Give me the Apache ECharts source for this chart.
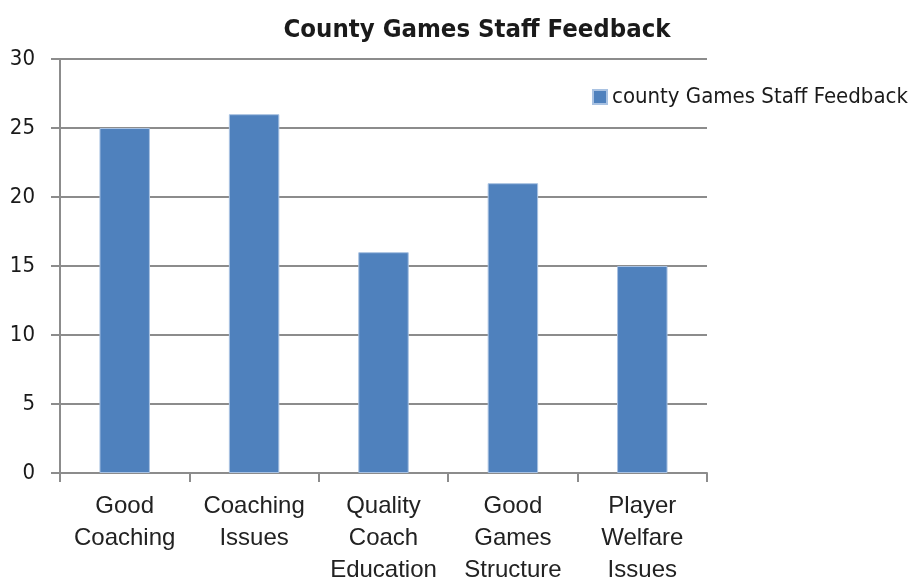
<!DOCTYPE html>
<html>
<head>
<meta charset="utf-8">
<style>
  html, body { margin: 0; padding: 0; background: #fff; }
  #chart { width: 918px; height: 580px; }
</style>
<script src="https://cdn.jsdelivr.net/npm/echarts@6/dist/echarts.min.js"></script>
</head>
<body>
<div id="chart"></div>
<script>
// Feedback categories and counts
const categories = [
  'Good\nCoaching',
  'Coaching\nIssues',
  'Quality\nCoach\nEducation',
  'Good\nGames\nStructure',
  'Player\nWelfare\nIssues'
];
const feedbackCounts = [25, 26, 16, 21, 15];
const seriesName = 'county Games Staff Feedback';
const yTicks = [0, 5, 10, 15, 20, 25, 30];

const chart = echarts.init(document.getElementById('chart'));
const gray = '#8c8c8c';

chart.setOption({
  animation: false,
  title: {
    text: 'County Games Staff Feedback',
    left: 472,
    top: 12,
    textAlign: 'center',
    textStyle: {
      fontFamily: '"DejaVu Sans Condensed", sans-serif',
      fontWeight: 'bold',
      fontSize: 25.5,
      color: '#1a1a1a'
    }
  },
  legend: {
    left: 587,
    top: 81,
    itemWidth: 14,
    itemHeight: 14,
    itemGap: 6,
    icon: 'rect',
    data: [seriesName],
    textStyle: {
      fontFamily: '"DejaVu Sans Condensed", sans-serif',
      fontSize: 22,
      color: '#1a1a1a'
    }
  },
  grid: { left: 60, right: 211, top: 59, bottom: 107, outerBoundsMode: 'none', containLabel: false },
  xAxis: {
    type: 'category',
    data: categories,
    axisLine: { lineStyle: { color: gray, width: 2 } },
    axisTick: { show: true, length: 9, lineStyle: { color: gray, width: 2 } },
    axisLabel: {
      margin: 17,
      fontFamily: '"Liberation Sans", Arial, sans-serif',
      fontSize: 24,
      lineHeight: 32,
      color: '#222',
      interval: 0
    }
  },
  yAxis: {
    type: 'value',
    min: yTicks[0],
    max: yTicks[yTicks.length - 1],
    interval: 5,
    axisLine: { show: true, lineStyle: { color: gray, width: 2 } },
    axisTick: { show: true, length: 9, lineStyle: { color: gray, width: 2 } },
    splitLine: { lineStyle: { color: gray, width: 2 } },
    axisLabel: {
      margin: 25,
      fontFamily: '"DejaVu Sans Condensed", sans-serif',
      fontSize: 22,
      color: '#1a1a1a'
    }
  },
  series: [{
    name: seriesName,
    type: 'bar',
    data: feedbackCounts,
    barWidth: '39%',
    itemStyle: {
      color: '#4f81bd',
      borderColor: '#a9c2e2',
      borderWidth: 1
    }
  }]
});
</script>
</body>
</html>
